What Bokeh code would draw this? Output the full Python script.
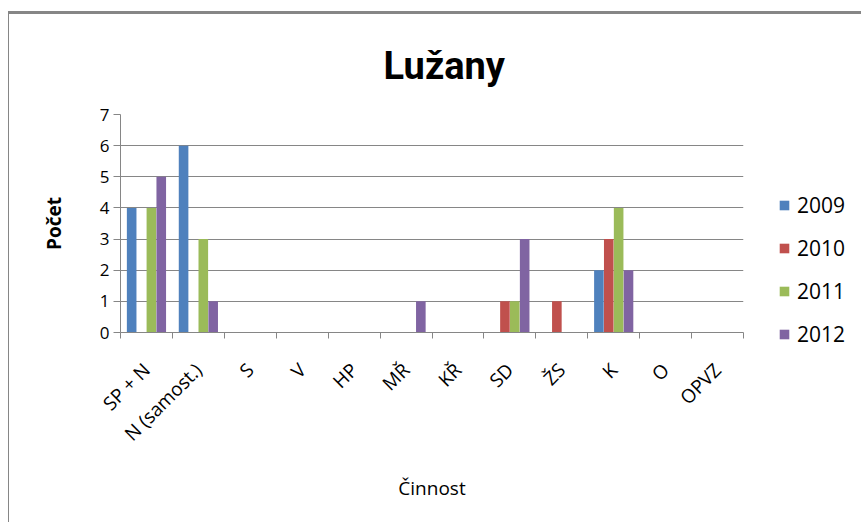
import numpy as np
from math import pi
from bokeh.plotting import figure
from bokeh.models import FixedTicker, Legend, LegendItem, Range1d
from bokeh.embed import file_html
from bokeh.resources import INLINE

categories = ["SP + N", "N (samost.)", "S", "V", "HP", "MŘ", "KŘ", "SD", "ŽS", "K", "O", "OPVZ"]
years = ["2009", "2010", "2011", "2012"]
v2009 = [4, 6, 0, 0, 0, 0, 0, 0, 0, 2, 0, 0]
v2010 = [0, 0, 0, 0, 0, 0, 0, 1, 1, 3, 0, 0]
v2011 = [4, 3, 0, 0, 0, 0, 0, 1, 0, 4, 0, 0]
v2012 = [5, 1, 0, 0, 0, 1, 0, 3, 0, 2, 0, 0]
y_ticks = [0, 1, 2, 3, 4, 5, 6, 7]
colors = ["#4F81BD", "#C0504D", "#9BBB59", "#8064A2"]

FONT = "Open Sans"
GRAY = "#868686"

p = figure(width=851, height=507, frame_width=623, frame_height=218,
           x_range=Range1d(0, len(categories)), y_range=Range1d(0, 7),
           output_backend="svg", toolbar_location=None,
           min_border_left=111, min_border_right=117,
           min_border_top=99, min_border_bottom=190)
p.styles = {"border-top": "3px solid #868686", "border-left": "1px solid #868686",
            "margin-top": "11px", "margin-left": "8px"}
p.outline_line_color = None

p.title.text = "Lužany"
p.title.align = "left"
p.title.offset = 263
p.title.text_font = "Roboto"
p.title.text_font_size = "38px"
p.title.text_font_style = "bold"
p.title.text_color = "black"
p.title.standoff = 54

x_idx = np.arange(len(categories)) + 0.5
offsets = [-0.285, -0.095, 0.095, 0.285]
series = [v2009, v2010, v2011, v2012]
items = []
for yr, vals, col, off in zip(years, series, colors, offsets):
    r = p.vbar(x=x_idx + off, top=vals, width=0.185, fill_color=col, line_color=None)
    items.append(LegendItem(label=yr, renderers=[r]))

# x axis: ticks at category boundaries (minor), labels at centers (major)
p.xaxis.ticker = FixedTicker(ticks=list(x_idx), minor_ticks=list(range(len(categories) + 1)))
p.xaxis.major_label_overrides = {float(x): c for x, c in zip(x_idx, categories)}
p.xaxis.major_tick_line_color = None
p.xaxis.major_tick_out = 0
p.xaxis.major_tick_in = 0
p.xaxis.minor_tick_line_color = GRAY
p.xaxis.minor_tick_out = 6
p.xaxis.minor_tick_in = 0
p.xaxis.axis_line_color = GRAY
p.xaxis.major_label_orientation = pi / 4
p.xaxis.major_label_standoff = 28
p.xaxis.major_label_text_font = FONT
p.xaxis.major_label_text_font_size = "19px"
p.xaxis.major_label_text_color = "black"
p.xaxis.axis_label = "Činnost"
p.xaxis.axis_label_text_font = FONT
p.xaxis.axis_label_text_font_size = "19px"
p.xaxis.axis_label_text_font_style = "normal"
p.xaxis.axis_label_text_color = "black"
p.xaxis.axis_label_standoff = 16
p.xgrid.grid_line_color = None

p.yaxis.ticker = FixedTicker(ticks=y_ticks)
p.yaxis.minor_tick_line_color = None
p.yaxis.major_tick_line_color = GRAY
p.yaxis.major_tick_out = 7
p.yaxis.major_tick_in = 0
p.yaxis.axis_line_color = GRAY
p.yaxis.major_label_standoff = 4
p.yaxis.major_label_text_font = FONT
p.yaxis.major_label_text_font_size = "17px"
p.yaxis.major_label_text_color = "black"
p.yaxis.axis_label = "Počet"
p.yaxis.axis_label_text_font = FONT
p.yaxis.axis_label_text_font_size = "19px"
p.yaxis.axis_label_text_font_style = "bold"
p.yaxis.axis_label_text_color = "black"
p.yaxis.axis_label_standoff = 30
p.ygrid.grid_line_color = GRAY
p.ygrid.grid_line_width = 1

legend = Legend(items=items, location=(35, -16))
legend.glyph_width = 12
legend.glyph_height = 12
legend.label_height = 20
legend.label_width = 20
legend.spacing = 15
legend.padding = 0
legend.margin = 0
legend.label_standoff = 7
legend.border_line_color = None
legend.background_fill_alpha = 0
legend.label_text_font = FONT
legend.label_text_font_size = "21px"
legend.label_text_color = "black"
p.add_layout(legend, "right")

open("out.html", "w").write(file_html(p, INLINE))
